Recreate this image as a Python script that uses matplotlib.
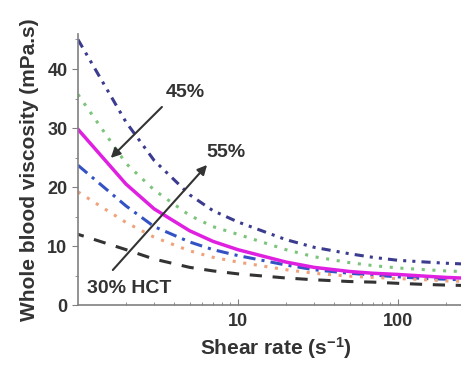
import numpy as np
import matplotlib
matplotlib.use('Agg')
import matplotlib.pyplot as plt
from matplotlib.ticker import FixedLocator, NullFormatter

plt.rcParams['font.family'] = ['Liberation Sans', 'DejaVu Sans']
plt.rcParams['font.weight'] = 'bold'
plt.rcParams['axes.labelweight'] = 'bold'
plt.rcParams['mathtext.fontset'] = 'custom'
plt.rcParams['mathtext.rm'] = 'Liberation Sans:bold'
plt.rcParams['mathtext.bf'] = 'Liberation Sans:bold'
plt.rcParams['mathtext.default'] = 'bf'

# shear rate (1/s)
shear = [1, 2, 3, 5, 7, 10, 20, 30, 50, 70, 100, 150, 200, 300]

# whole blood viscosity (mPa.s) per hematocrit
hct30 = [12.0, 9.4, 7.8, 6.4, 5.8, 5.3, 4.6, 4.3, 4.0, 3.9, 3.7, 3.5, 3.4, 3.3]
hct35 = [19.2, 14.0, 11.5, 9.2, 8.1, 7.3, 6.0, 5.4, 4.9, 4.7, 4.5, 4.3, 4.1, 4.0]
hct40 = [23.7, 16.8, 13.3, 10.7, 9.4, 8.4, 6.8, 6.0, 5.4, 5.1, 4.8, 4.5, 4.4, 4.2]
hct45 = [29.8, 20.5, 16.3, 12.6, 10.8, 9.4, 7.3, 6.4, 5.7, 5.4, 5.2, 4.9, 4.7, 4.5]
hct50 = [35.7, 24.0, 19.5, 15.2, 13.3, 12.0, 9.4, 8.2, 7.2, 6.7, 6.3, 6.0, 5.8, 5.6]
hct55 = [45.0, 31.0, 24.5, 18.7, 16.0, 14.1, 11.1, 9.8, 8.7, 8.1, 7.6, 7.3, 7.1, 6.9]

fig = plt.figure(figsize=(4.61, 3.65), dpi=100)
ax = fig.add_axes([0.169, 0.164, 0.859, 0.744])

ax.plot(shear, hct55, color='#3b3b8f', lw=2.2, ls=(0, (3, 2, 1, 2, 1, 2)))
ax.plot(shear, hct50, color='#7cc47c', lw=2.2, ls=(0, (1, 2.5)))
ax.plot(shear, hct40, color='#3352c4', lw=2.2, ls=(0, (4, 2, 1, 2)))
ax.plot(shear, hct35, color='#f0a27a', lw=2.2, ls=(0, (1, 2.5)))
ax.plot(shear, hct30, color='#333333', lw=2.2, ls=(2, (4, 3.5)))
ax.plot(shear, hct45, color='#e020e0', lw=2.5, ls='-')

ax.set_xscale('log')
ax.set_xlim(1, 300)
ax.set_ylim(0, 46)
ax.set_yticks([0, 10, 20, 30, 40])
ax.yaxis.set_minor_locator(FixedLocator([5, 15, 25, 35, 45]))
ax.xaxis.set_minor_formatter(NullFormatter())
ax.set_xticks([10, 100])
ax.set_xticklabels(['10', '100'])

for s in ['top', 'right']:
    ax.spines[s].set_visible(False)
for s in ['left', 'bottom']:
    ax.spines[s].set_color('#808080')
    ax.spines[s].set_linewidth(1.2)

ax.tick_params(axis='y', which='major', direction='out', length=4, color='#808080',
               labelsize=13, labelcolor='#333333')
ax.tick_params(axis='y', which='minor', direction='out', length=2, color='#808080')
ax.tick_params(axis='x', which='major', direction='in', length=4, color='#808080',
               labelsize=13, labelcolor='#333333', pad=6)
ax.tick_params(axis='x', which='minor', direction='in', length=2, color='#808080')

ax.set_xlabel('Shear rate (s$^{-1}$)', fontsize=15, color='#333333', labelpad=3)
ax.set_ylabel('Whole blood viscosity (mPa.s)', fontsize=15, color='#333333', labelpad=6)

arrow = dict(arrowstyle='-|>', color='#333333', lw=1.5, mutation_scale=14)
ax.annotate('', xy=(1.56, 24.6), xytext=(3.45, 33.9), arrowprops=arrow)
ax.annotate('', xy=(6.6, 24.1), xytext=(1.61, 5.6), arrowprops=arrow)
ax.text(4.73, 36.1, '45%', fontsize=14, color='#333333', ha='center', va='center')
ax.text(8.4, 25.9, '55%', fontsize=14, color='#333333', ha='center', va='center')
ax.text(2.08, 2.9, '30% HCT', fontsize=14, color='#333333', ha='center', va='center')

fig.savefig('out.png', dpi=100)
